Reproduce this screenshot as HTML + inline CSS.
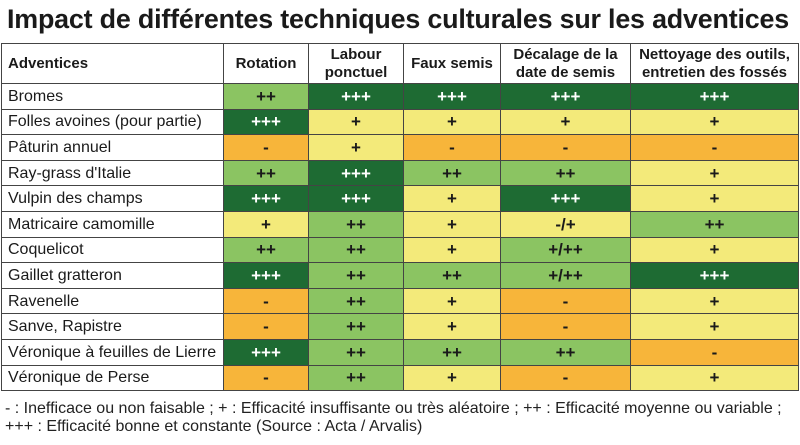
<!DOCTYPE html>
<html><head><meta charset="utf-8">
<style>
*{margin:0;padding:0;box-sizing:border-box}
body{width:800px;height:445px;background:#fff;position:relative;overflow:hidden;font-family:"Liberation Sans",sans-serif;color:#1a1a1a}
#title{position:absolute;left:7px;top:4px;font-size:27px;font-weight:bold;white-space:nowrap;transform-origin:0 0;transform:scaleX(0.995);letter-spacing:-0.2px}
table{position:absolute;left:1px;top:43px;border-collapse:collapse;table-layout:fixed;width:797px}
td,th{border:1.5px solid #444;font-size:17px;font-weight:bold;text-align:center;white-space:nowrap;overflow:hidden}
th{height:40px;font-weight:bold;line-height:18px;font-size:15px}
td{height:25.6px;padding:0;padding-top:1px}
td.n{text-align:left;padding-left:6px;background:#fff;font-size:16px;font-weight:normal}
th.n{text-align:left;padding-left:6px}
.d{background:#1e6b33;color:#fff}
.l{background:#8bc462}
.y{background:#f3ea7a}
.o{background:#f7b53a}
.leg{position:absolute;left:5px;font-size:16px;white-space:nowrap;transform-origin:0 0;transform:scaleX(1.0);color:#222}
</style></head><body>
<div id="title">Impact de différentes techniques culturales sur les adventices</div>
<table>
<colgroup><col style="width:222px"><col style="width:85px"><col style="width:95px"><col style="width:97px"><col style="width:130px"><col style="width:168px"></colgroup>
<tr><th class="n">Adventices</th><th>Rotation</th><th>Labour<br>ponctuel</th><th>Faux semis</th><th>Décalage de la<br>date de semis</th><th>Nettoyage des outils,<br>entretien des fossés</th></tr>
<tr><td class="n">Bromes</td><td class="l">++</td><td class="d">+++</td><td class="d">+++</td><td class="d">+++</td><td class="d">+++</td></tr>
<tr><td class="n">Folles avoines (pour partie)</td><td class="d">+++</td><td class="y">+</td><td class="y">+</td><td class="y">+</td><td class="y">+</td></tr>
<tr><td class="n">Pâturin annuel</td><td class="o">-</td><td class="y">+</td><td class="o">-</td><td class="o">-</td><td class="o">-</td></tr>
<tr><td class="n">Ray-grass d'Italie</td><td class="l">++</td><td class="d">+++</td><td class="l">++</td><td class="l">++</td><td class="y">+</td></tr>
<tr><td class="n">Vulpin des champs</td><td class="d">+++</td><td class="d">+++</td><td class="y">+</td><td class="d">+++</td><td class="y">+</td></tr>
<tr><td class="n">Matricaire camomille</td><td class="y">+</td><td class="l">++</td><td class="y">+</td><td class="y">-/+</td><td class="l">++</td></tr>
<tr><td class="n">Coquelicot</td><td class="l">++</td><td class="l">++</td><td class="y">+</td><td class="l">+/++</td><td class="y">+</td></tr>
<tr><td class="n">Gaillet gratteron</td><td class="d">+++</td><td class="l">++</td><td class="l">++</td><td class="l">+/++</td><td class="d">+++</td></tr>
<tr><td class="n">Ravenelle</td><td class="o">-</td><td class="l">++</td><td class="y">+</td><td class="o">-</td><td class="y">+</td></tr>
<tr><td class="n">Sanve, Rapistre</td><td class="o">-</td><td class="l">++</td><td class="y">+</td><td class="o">-</td><td class="y">+</td></tr>
<tr><td class="n">Véronique à feuilles de Lierre</td><td class="d">+++</td><td class="l">++</td><td class="l">++</td><td class="l">++</td><td class="o">-</td></tr>
<tr><td class="n">Véronique de Perse</td><td class="o">-</td><td class="l">++</td><td class="y">+</td><td class="o">-</td><td class="y">+</td></tr>
</table>
<div class="leg" style="top:400px">- : Inefficace ou non faisable ; + : Efficacité insuffisante ou très aléatoire ; ++ : Efficacité moyenne ou variable ;</div>
<div class="leg" style="top:418px">+++ : Efficacité bonne et constante (Source : Acta / Arvalis)</div>
</body></html>
